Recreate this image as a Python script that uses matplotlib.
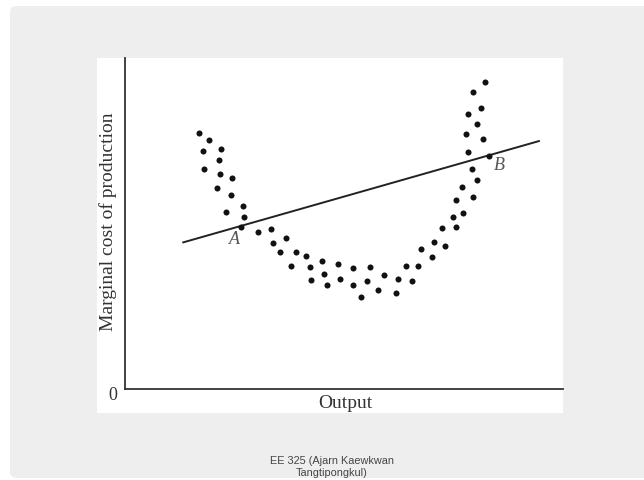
import matplotlib
matplotlib.use("Agg")
import matplotlib.pyplot as plt
from matplotlib.patches import FancyBboxPatch, Rectangle

# Scatter of marginal cost observations (output, marginal cost)
output_vals = [16.8, 19.2, 17.7, 21.9, 21.4, 18.1, 21.6, 24.4, 20.9, 24.3, 27.0, 23.1, 27.2, 26.5,
               30.3, 33.3, 36.8, 33.9, 35.5, 39.0, 41.4, 37.9, 42.3, 45.0, 45.4, 42.5, 46.2,
               48.6, 49.2, 52.1, 52.0, 53.8, 55.9, 55.2, 57.8, 59.2, 62.3, 61.9, 64.2, 65.5,
               67.0, 67.5, 70.2, 70.6, 73.1, 72.4, 75.6, 74.8, 77.2, 75.5, 79.5, 76.9, 80.4,
               79.2, 83.1, 78.4, 81.7, 77.9, 80.4, 78.4, 81.3, 79.4, 82.2]
cost_vals = [77.3, 75.2, 71.9, 72.4, 69.2, 66.5, 65.0, 63.7, 60.8, 58.6, 55.4, 53.6, 52.0, 48.9,
             47.5, 48.2, 45.7, 44.0, 41.5, 41.5, 40.2, 37.2, 36.9, 38.6, 34.8, 32.9, 31.4,
             37.9, 33.3, 36.5, 31.3, 27.8, 36.9, 32.7, 29.9, 34.4, 33.3, 29.1, 37.2, 32.5,
             37.2, 42.2, 40.0, 44.3, 43.3, 48.7, 49.0, 52.1, 53.3, 57.1, 57.9, 61.1, 63.2,
             66.5, 70.5, 71.7, 75.4, 76.9, 80.0, 83.0, 84.9, 89.8, 92.8]

# Straight line (linear fit)
line_x = [13.3, 94.5]
line_y = [44.3, 74.9]

# Point labels
point_labels = ["A", "B"]
label_x = [24.9, 85.5]
label_y = [45.2, 67.5]

x_label = "Output"
y_label = "Marginal cost of production"
origin_label = "0"
footer = "EE 325 (Ajarn Kaewkwan\nTangtipongkul)"

W, H = 644, 480
fig = plt.figure(figsize=(W / 100, H / 100), dpi=100)
fig.patch.set_facecolor("white")

def fx(px):
    return px / W

def fy(py):
    return 1 - py / H

# slide background
bg = FancyBboxPatch((fx(10), fy(478)), fx(700) - fx(10), fy(6) - fy(478),
                    boxstyle="round,pad=0,rounding_size=0.012",
                    transform=fig.transFigure, facecolor="#eeeeee",
                    edgecolor="none", zorder=0)
fig.patches.append(bg)

# white image panel
panel = Rectangle((fx(97), fy(413)), fx(563) - fx(97), fy(58) - fy(413),
                  transform=fig.transFigure, facecolor="white", edgecolor="none", zorder=1)
fig.patches.append(panel)

ax = fig.add_axes([fx(125), fy(389), fx(563) - fx(125), fy(58) - fy(389)])
ax.set_zorder(5)
ax.set_facecolor("none")
ax.set_xlim(0, 100)
ax.set_ylim(0, 100)
for s in ["top", "right"]:
    ax.spines[s].set_visible(False)
for s in ["left", "bottom"]:
    ax.spines[s].set_color("#333333")
    ax.spines[s].set_linewidth(1.3)
ax.set_xticks([])
ax.set_yticks([])

ax.scatter(output_vals, cost_vals, s=19, color="#111111", zorder=3, linewidths=0)
ax.plot(line_x, line_y, color="#222222", linewidth=1.4, zorder=2)

for t, x, y in zip(point_labels, label_x, label_y):
    ax.text(x, y, t, fontsize=13, fontstyle="italic", family="Liberation Serif",
            color="#555555", ha="center", va="center")

serif = "Liberation Serif"
fig.text(fx(345), fy(403), x_label, fontsize=14, family=serif, color="#333333",
         ha="center", va="center", zorder=6)
fig.text(fx(108), fy(222), y_label, fontsize=14, family=serif, color="#333333",
         ha="center", va="center", rotation=90, zorder=6)
fig.text(fx(112.7), fy(396), origin_label, fontsize=13, family=serif, color="#333333",
         ha="center", va="center", zorder=6)
fig.text(fx(332), fy(467), footer, fontsize=7.8, family="Liberation Sans", color="#444444",
         ha="center", va="center", linespacing=1.15, zorder=6)

fig.savefig("out.png", dpi=100)
